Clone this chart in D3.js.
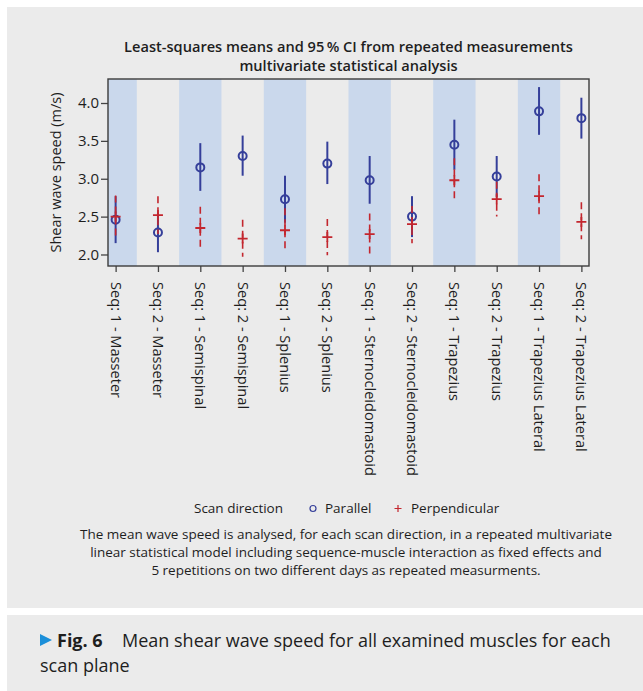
<!DOCTYPE html>
<html>
<head>
<meta charset="utf-8">
<script src="https://cdn.jsdelivr.net/npm/d3@7"></script>
<style>
  body { margin: 0; background: #fff; }
  svg { display: block; font-family: "Open Sans", Lato, sans-serif; }
</style>
</head>
<body>
<svg id="canvas" width="643" height="691"></svg>
<script>
// categories on the x axis
let categories = [
  "Seq: 1 - Masseter", "Seq: 2 - Masseter",
  "Seq: 1 - Semispinal", "Seq: 2 - Semispinal",
  "Seq: 1 - Splenius", "Seq: 2 - Splenius",
  "Seq: 1 - Sternocleidomastoid", "Seq: 2 - Sternocleidomastoid",
  "Seq: 1 - Trapezius", "Seq: 2 - Trapezius",
  "Seq: 1 - Trapezius Lateral", "Seq: 2 - Trapezius Lateral"
];

// parallel scan direction: mean and 95% CI
let parallelMean = [2.46, 2.29, 3.15, 3.30, 2.73, 3.20, 2.98, 2.50, 3.45, 3.03, 3.89, 3.80];
let parallelLow  = [2.15, 2.03, 2.84, 3.04, 2.42, 2.93, 2.67, 2.23, 3.12, 2.76, 3.58, 3.53];
let parallelHigh = [2.77, 2.55, 3.47, 3.57, 3.04, 3.49, 3.30, 2.77, 3.78, 3.30, 4.21, 4.07];

// perpendicular scan direction: mean and 95% CI
let perpMean = [2.50, 2.52, 2.35, 2.21, 2.32, 2.23, 2.27, 2.40, 2.98, 2.73, 2.77, 2.43];
let perpLow  = [2.22, 2.27, 2.07, 1.97, 2.04, 1.99, 2.00, 2.15, 2.70, 2.50, 2.50, 2.20];
let perpHigh = [2.78, 2.77, 2.63, 2.46, 2.61, 2.47, 2.54, 2.64, 3.27, 2.96, 3.06, 2.69];

let yTicks = [2.0, 2.5, 3.0, 3.5, 4.0];

let titleLines = [
  "Least-squares means and 95\u2009% CI from repeated measurements",
  "multivariate statistical analysis"
];
let noteLines = [
  "The mean wave speed is analysed, for each scan direction, in a repeated multivariate",
  "linear statistical model including sequence-muscle interaction as fixed effects and",
  "5 repetitions on two different days as repeated measurments."
];

let blue = "#353f9a";
let red = "#c3262e";
let band = "#cad8ec";
let grey = "#ebebeb";
let ink = "#1e1e1e";

let svg = d3.select("#canvas");

// panel backgrounds
svg.append("rect").attr("x", 7).attr("y", 7).attr("width", 636).attr("height", 601).attr("fill", grey);
svg.append("rect").attr("x", 7).attr("y", 615).attr("width", 636).attr("height", 76).attr("fill", grey);

let pLeft = 108, pRight = 589, pTop = 79, pBottom = 266;

let x = d3.scalePoint()
  .domain(categories)
  .range([pLeft, pRight])
  .padding(0.18);

let y = d3.scaleLinear()
  .domain([1.848, 4.317])
  .range([pBottom, pTop]);

let step = x.step();

// title
svg.append("g").selectAll("text")
  .data(titleLines)
  .enter()
  .append("text")
  .attr("x", (pLeft + pRight) / 2)
  .attr("y", (d, i) => 52 + i * 18.5)
  .attr("text-anchor", "middle")
  .attr("font-size", 14.6)
  .attr("font-weight", 600)
  .attr("fill", ink)
  .text(d => d);

let plot = svg.append("g");

plot.append("clipPath").attr("id", "clip")
  .append("rect").attr("x", pLeft).attr("y", pTop).attr("width", pRight - pLeft).attr("height", pBottom - pTop);

// shaded bands for sequence 1
plot.append("g").attr("clip-path", "url(#clip)")
  .selectAll("rect")
  .data(categories.filter((d, i) => i % 2 === 0))
  .enter()
  .append("rect")
  .attr("x", d => x(d) - step / 2)
  .attr("y", pTop)
  .attr("width", step)
  .attr("height", pBottom - pTop)
  .attr("fill", band);

// y axis
let yAxis = d3.axisLeft(y).tickValues(yTicks).tickFormat(d3.format(".1f")).tickSize(7).tickPadding(2);
let gy = svg.append("g").attr("transform", "translate(" + pLeft + ",0)").call(yAxis);
gy.select(".domain").remove();
gy.selectAll(".tick line").attr("stroke", "#444").attr("stroke-width", 1.3);
gy.selectAll(".tick text").attr("font-size", 15).attr("fill", ink).attr("font-family", "'Open Sans', sans-serif");

// x axis
let xAxis = d3.axisBottom(x).tickSize(6).tickPadding(0);
let gx = svg.append("g").attr("transform", "translate(0," + pBottom + ")").call(xAxis);
gx.select(".domain").remove();
gx.selectAll(".tick line").attr("stroke", "#444").attr("stroke-width", 1.3);
gx.selectAll(".tick text")
  .attr("font-size", 14.6)
  .attr("fill", ink)
  .attr("font-family", "'Open Sans', sans-serif")
  .attr("text-anchor", "start")
  .attr("dy", null)
  .attr("transform", "translate(-5.5,16) rotate(90)")
  .attr("x", 0)
  .attr("y", 0);

// y label
svg.append("text")
  .attr("transform", "translate(61," + (pTop + pBottom) / 2 + ") rotate(-90)")
  .attr("text-anchor", "middle")
  .attr("font-size", 14.5)
  .attr("fill", ink)
  .text("Shear wave speed (m/s)");

// parallel CI and means
plot.append("g").selectAll("line")
  .data(categories)
  .enter()
  .append("line")
  .attr("x1", d => x(d)).attr("x2", d => x(d))
  .attr("y1", (d, i) => y(parallelLow[i]))
  .attr("y2", (d, i) => y(parallelHigh[i]))
  .attr("stroke", blue)
  .attr("stroke-width", 2);

plot.append("g").selectAll("circle")
  .data(categories)
  .enter()
  .append("circle")
  .attr("cx", d => x(d))
  .attr("cy", (d, i) => y(parallelMean[i]))
  .attr("r", 4)
  .attr("fill", "none")
  .attr("stroke", blue)
  .attr("stroke-width", 2);

// perpendicular CI and means
plot.append("g").selectAll("line")
  .data(categories)
  .enter()
  .append("line")
  .attr("x1", d => x(d)).attr("x2", d => x(d))
  .attr("y1", (d, i) => y(perpHigh[i]))
  .attr("y2", (d, i) => y(perpLow[i]))
  .attr("stroke", red)
  .attr("stroke-width", 1.6)
  .attr("stroke-dasharray", "7,4");

plot.append("g").selectAll("path")
  .data(categories)
  .enter()
  .append("path")
  .attr("d", (d, i) => {
    let cx = x(d), cy = y(perpMean[i]);
    return "M" + (cx - 5) + "," + cy + "H" + (cx + 5) + "M" + cx + "," + (cy - 5) + "V" + (cy + 5);
  })
  .attr("stroke", red)
  .attr("stroke-width", 1.8);

// frame
svg.append("rect")
  .attr("x", pLeft).attr("y", pTop)
  .attr("width", pRight - pLeft).attr("height", pBottom - pTop)
  .attr("fill", "none")
  .attr("stroke", "#3c3c3c")
  .attr("stroke-width", 1.4);

// legend
let legend = svg.append("g").attr("font-size", 13.5).attr("fill", ink);
legend.append("text").attr("x", 194).attr("y", 513).text("Scan direction");
legend.append("circle").attr("cx", 313).attr("cy", 508.5).attr("r", 3).attr("fill", "none").attr("stroke", blue).attr("stroke-width", 1.2);
legend.append("text").attr("x", 325).attr("y", 513).text("Parallel");
legend.append("path").attr("d", "M394.5,508.5H401.5M398,505V512").attr("stroke", red).attr("stroke-width", 1.2);
legend.append("text").attr("x", 411).attr("y", 513).text("Perpendicular");

// note
svg.append("g").selectAll("text")
  .data(noteLines)
  .enter()
  .append("text")
  .attr("x", 346)
  .attr("y", (d, i) => 539 + i * 18)
  .attr("text-anchor", "middle")
  .attr("font-size", 13.5)
  .attr("fill", ink)
  .text(d => d);

// caption
svg.append("path").attr("d", "M40,634L52,640L40,646Z").attr("fill", "#1b8fd9");
let cap = svg.append("text").attr("x", 57).attr("y", 647).attr("font-size", 18).attr("fill", ink);
cap.append("tspan").attr("font-weight", "bold").text("Fig. 6");
cap.append("tspan").attr("x", 122).text("Mean shear wave speed for all examined muscles for each");
svg.append("text").attr("x", 40).attr("y", 672).attr("font-size", 18).attr("fill", ink).text("scan plane");
</script>
</body>
</html>
